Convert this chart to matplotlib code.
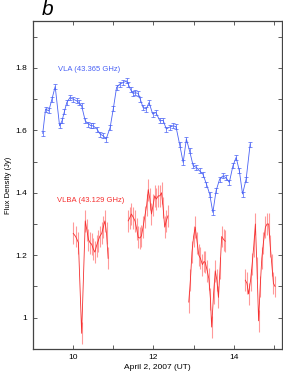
import matplotlib
matplotlib.use("Agg")
import matplotlib.pyplot as plt
import numpy as np
from matplotlib.ticker import MultipleLocator, FixedLocator

# VLA 43.365 GHz light curve (hours UT, Jy)
vla_t = [9.24, 9.31, 9.39, 9.47, 9.55, 9.66, 9.72, 9.78, 9.84, 9.92, 9.99,
         10.09, 10.15, 10.21, 10.30, 10.38, 10.44, 10.50, 10.59, 10.67, 10.75,
         10.82, 10.92, 11.00, 11.08, 11.16, 11.25, 11.33, 11.37, 11.43, 11.49,
         11.55, 11.62, 11.67, 11.74, 11.82, 11.89, 11.98, 12.06, 12.16, 12.24,
         12.32, 12.40, 12.49, 12.56, 12.65, 12.74, 12.82, 12.90, 12.99, 13.07,
         13.15, 13.23, 13.32, 13.40, 13.48, 13.56, 13.65, 13.73, 13.81, 13.89,
         13.98, 14.06, 14.14, 14.22, 14.31, 14.41]
vla_f = [1.590, 1.668, 1.662, 1.700, 1.740, 1.614, 1.630, 1.660, 1.689, 1.705, 1.700,
         1.694, 1.688, 1.678, 1.630, 1.620, 1.615, 1.614, 1.604, 1.588, 1.582,
         1.572, 1.609, 1.670, 1.737, 1.748, 1.753, 1.758, 1.748, 1.730, 1.718,
         1.720, 1.718, 1.700, 1.673, 1.668, 1.689, 1.652, 1.657, 1.630, 1.632,
         1.604, 1.610, 1.614, 1.612, 1.556, 1.497, 1.572, 1.534, 1.486, 1.481,
         1.470, 1.460, 1.428, 1.396, 1.337, 1.406, 1.444, 1.454, 1.448, 1.433,
         1.486, 1.513, 1.470, 1.396, 1.444, 1.556]

# VLBA 43.129 GHz light curve, four scans
vlba_t = [
    [10.00, 10.06, 10.13, 10.21, 10.30, 10.34, 10.38, 10.42, 10.46, 10.50,
     10.54, 10.58, 10.62, 10.66, 10.71, 10.75, 10.79, 10.83, 10.87],
    [11.37, 11.41, 11.45, 11.50, 11.54, 11.58, 11.62, 11.66, 11.70, 11.74,
     11.78, 11.83, 11.87, 11.91, 11.95, 11.99, 12.03, 12.07, 12.12, 12.16,
     12.20, 12.24, 12.28, 12.32, 12.36],
    [12.88, 12.92, 12.96, 13.00, 13.04, 13.09, 13.13, 13.17, 13.22, 13.26,
     13.29, 13.34, 13.38, 13.42, 13.45, 13.50, 13.54, 13.58, 13.62, 13.66,
     13.70, 13.75, 13.79],
    [14.29, 14.33, 14.37, 14.42, 14.46, 14.50, 14.54, 14.58, 14.62, 14.66,
     14.70, 14.74, 14.79, 14.83, 14.87, 14.91, 14.95, 14.99, 15.03],
]
vlba_f = [
    [1.27, 1.26, 1.24, 0.95, 1.31, 1.28, 1.25, 1.24, 1.235, 1.22,
     1.21, 1.23, 1.245, 1.26, 1.27, 1.29, 1.31, 1.27, 1.19],
    [1.31, 1.32, 1.332, 1.32, 1.31, 1.285, 1.257, 1.255, 1.262, 1.29,
     1.321, 1.36, 1.41, 1.38, 1.332, 1.36, 1.39, 1.38, 1.39, 1.39,
     1.40, 1.353, 1.29, 1.31, 1.326],
    [1.05, 1.12, 1.21, 1.26, 1.29, 1.24, 1.20, 1.19, 1.17, 1.18,
     1.177, 1.15, 1.125, 1.06, 0.97, 1.08, 1.15, 1.12, 1.065, 1.16,
     1.26, 1.25, 1.245],
    [1.12, 1.11, 1.076, 1.12, 1.172, 1.23, 1.30, 1.16, 0.99, 1.10,
     1.19, 1.24, 1.29, 1.30, 1.30, 1.23, 1.17, 1.11, 1.10],
]

blue = "#4a62f5"
red = "#f53030"
spine = "#444444"

plt.rcParams["font.family"] = ["Liberation Sans", "DejaVu Sans"]

fig = plt.figure(figsize=(2.83, 3.74), dpi=100)
ax = fig.add_axes([0.117, 0.067, 0.879, 0.877])

ax.errorbar(vla_t, vla_f, yerr=0.008, color=blue, lw=0.6, elinewidth=0.5,
            capsize=1.2, capthick=0.5)
for t, f in zip(vlba_t, vlba_f):
    ax.errorbar(t, f, yerr=0.035, color=red, lw=0.6, elinewidth=0.8,
                ecolor="#ff9a9a", capsize=0)

ax.text(9.63, 1.795, "VLA (43.365 GHz)", color=blue, fontsize=5.5, va="center")
ax.text(9.6, 1.375, "VLBA (43.129 GHz)", color=red, fontsize=5.5, va="center")

ax.set_xlim(9.0, 15.2)
ax.set_ylim(0.9, 1.95)
ax.xaxis.set_major_locator(FixedLocator([10, 12, 14]))
ax.xaxis.set_minor_locator(FixedLocator([9, 11, 13, 15]))
ax.yaxis.set_major_locator(FixedLocator([1.0, 1.2, 1.4, 1.6, 1.8]))
ax.yaxis.set_minor_locator(MultipleLocator(0.1))
ax.set_yticklabels(["1", "1.2", "1.4", "1.6", "1.8"])
ax.tick_params(which="both", direction="in", top=True, right=True,
               length=3, width=0.6, color=spine, labelsize=6, pad=4)
for s in ax.spines.values():
    s.set_color(spine)
    s.set_linewidth(0.9)

ax.set_xlabel("April 2, 2007 (UT)", fontsize=6, labelpad=2)
ax.set_ylabel("Flux Density (Jy)", fontsize=5.5, labelpad=3)
fig.text(0.148, 0.975, "b", fontsize=15, style="italic",
         va="center", ha="left")

fig.savefig("out.png", dpi=100)
